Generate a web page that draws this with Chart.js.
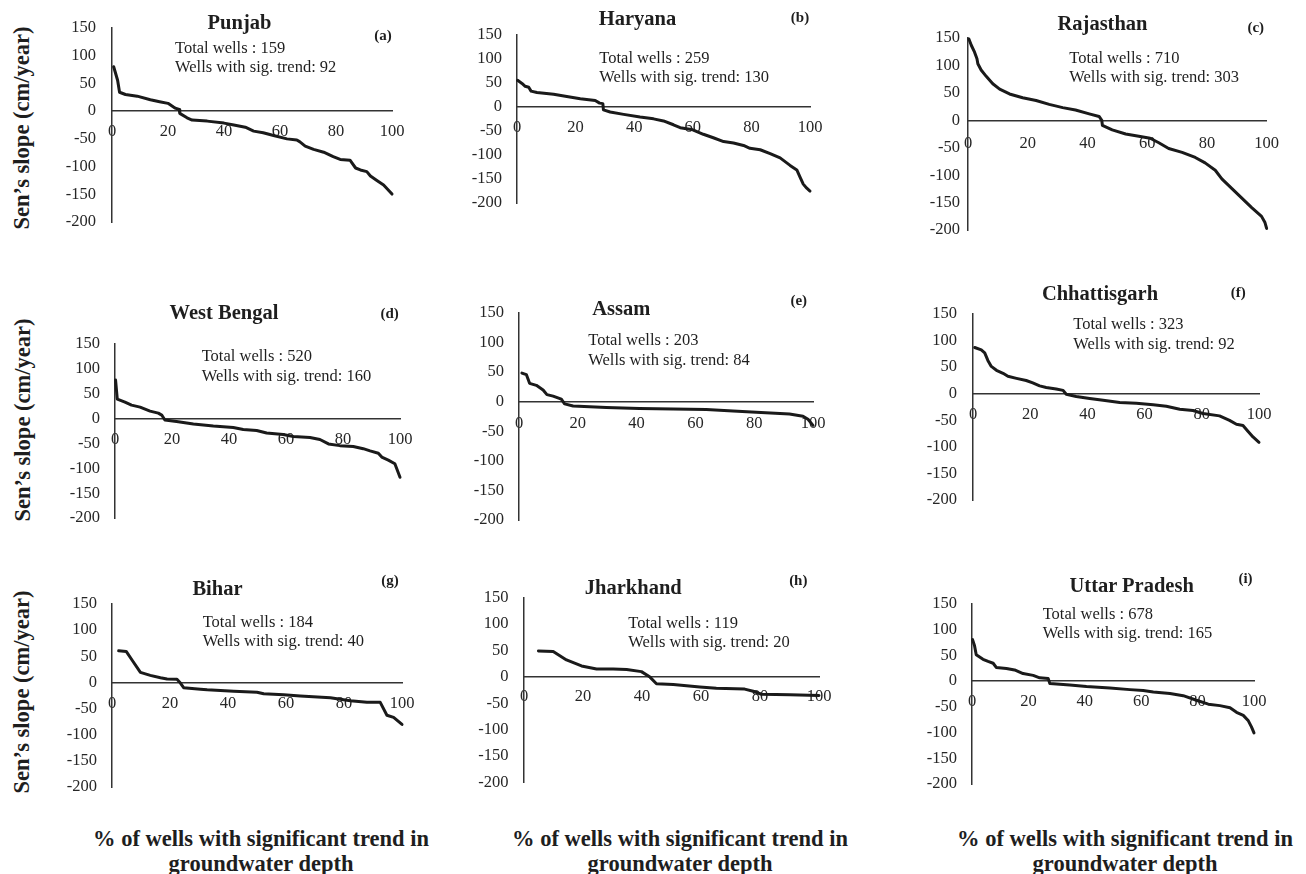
<!DOCTYPE html>
<html>
<head>
<meta charset="utf-8">
<script src="https://cdn.jsdelivr.net/npm/chart.js@4.4.0/dist/chart.umd.min.js"></script>
<style>
  body { margin: 0; background: #fff; }
  #fig { position: relative; width: 1306px; height: 874px; overflow: hidden;
         font-family: "Liberation Serif", "Times New Roman", serif; color: #1e1e1e; }
  #fig canvas { position: absolute; }
  .t { position: absolute; white-space: nowrap; }
  .title { font-weight: bold; font-size: 20.5px; transform: translate(-50%, -50%); }
  .tag { font-weight: bold; font-size: 15px; transform: translate(-50%, -50%); }
  .note { font-size: 16.5px; line-height: 19.5px; }
  .ylab { font-weight: bold; font-size: 22.5px; transform: translate(-50%, -50%) rotate(-90deg); }
  .xlab { font-weight: bold; font-size: 22.5px; line-height: 25px; text-align: center; transform: translateX(-50%); }
</style>
</head>
<body>
<div id="fig"></div>
<script>
// panel labels
const states = ["Punjab", "Haryana", "Rajasthan", "West Bengal", "Assam", "Chhattisgarh", "Bihar", "Jharkhand", "Uttar Pradesh"];
const tags = ["(a)", "(b)", "(c)", "(d)", "(e)", "(f)", "(g)", "(h)", "(i)"];
const totalWells = [159, 259, 710, 520, 203, 323, 184, 119, 678];
const sigWells = [92, 130, 303, 160, 84, 92, 40, 20, 165];

// % of wells (x) and Sen's slope in cm/year (y)
const punjabPct = [0.6, 2, 2.7, 4.8, 9, 13.7, 17, 20, 22.6, 24, 24.2, 26.8, 28.6, 34, 40, 43.5, 47.6, 50.6, 54, 57.7, 62.5, 66, 67, 69, 72, 75.6, 79, 81.5, 85, 87, 88.7, 91, 92.3, 94.6, 97, 100];
const punjabSlope = [80, 55.6, 34, 30, 27, 20.5, 17, 14, 5.4, 3, -4, -12, -16, -18, -21.6, -25, -29, -36, -39, -44, -50, -52, -55, -63, -69, -74, -82, -87, -88.5, -102.5, -106, -109, -117, -125, -133, -149.5];

const haryanaPct = [0.2, 1.7, 2.8, 4, 4.8, 6.8, 12.5, 17, 21.6, 26.7, 28.2, 29.3, 29.5, 31.8, 36.4, 42, 46.6, 50, 53.4, 55.7, 60, 63.6, 67, 70.5, 73.9, 77.3, 79.5, 83, 86.4, 89.8, 93.2, 95.5, 96.6, 97.7, 98.9, 100];
const haryanaSlope = [55.6, 49, 43, 41, 33, 30, 26.5, 22, 17, 13.6, 8, 7, -6, -10.5, -15.4, -21, -24.7, -29, -37, -43, -47.5, -56.8, -64, -72, -75, -80, -86, -89, -97, -106, -121.6, -131, -146, -160.5, -169, -175];

const rajasthanPct = [0.3, 1.1, 2.2, 3, 3.3, 4.4, 6.1, 8.3, 10.6, 13.9, 18.3, 22.8, 27.2, 31.7, 36, 40.6, 43.9, 44.8, 45, 48.3, 52.8, 57.2, 61, 63.9, 67.2, 71.7, 76.1, 79.4, 82.8, 85, 88.3, 91.7, 95, 98.3, 99.4, 100];
const rajasthanSlope = [148, 136.6, 124, 112, 103, 91.6, 80, 66.5, 56.6, 47.9, 40.9, 36, 29, 23, 18.7, 11.7, 7, 0, -9.3, -17.5, -25, -29, -32.7, -40.9, -51.4, -58.4, -67.7, -77.6, -91, -106.8, -124, -141.9, -159, -175, -185.6, -197];

const westBengalPct = [0.2, 0.8, 3.5, 5.8, 8.8, 12.3, 15.2, 16.4, 17.5, 21.6, 27.5, 34.5, 41.5, 45, 49.7, 53.2, 59, 62.6, 68.4, 71.9, 74.9, 78.9, 83.6, 87.1, 89.5, 92.4, 93.6, 95.9, 98.2, 100];
const westBengalSlope = [77.4, 39, 33, 27, 23, 15, 10.9, 7, -3, -6, -10.9, -15, -18, -21.8, -24, -29, -32, -36, -38, -42, -51, -54.4, -56, -60.5, -65, -69.6, -77.4, -83.5, -90.7, -118];

const assamPct = [1, 2.5, 3.6, 5.9, 8.2, 9.5, 11.6, 14.4, 15.5, 18.4, 29.7, 41, 52.4, 63.7, 72.8, 80.7, 92, 96.6, 98.3, 100];
const assamSlope = [48.4, 45.8, 31, 27.6, 19.8, 12, 9.4, 4.2, -3.6, -7.3, -9.9, -11.5, -12.5, -13, -15.6, -17.7, -20.8, -24.5, -29.7, -40];

const chhattisgarhPct = [0.6, 2.9, 4.1, 5.2, 6.4, 8.2, 10.5, 12.2, 15.2, 18.6, 20.9, 23.3, 25.6, 29.1, 31.5, 32.6, 36.1, 40.8, 45.5, 51.3, 57.1, 63, 67.6, 72.3, 76.9, 80.4, 86.2, 89.7, 92.1, 94.4, 96.2, 97.9, 100];
const chhattisgarhSlope = [86.8, 82.3, 76.7, 62.6, 51.3, 44, 38.4, 32.7, 28.8, 24.8, 20.3, 14.7, 11.8, 9, 6.2, -1.1, -5.1, -9, -12.4, -16.4, -18, -20.9, -23.7, -29.3, -31.6, -37.2, -41.7, -50.2, -57.5, -59.8, -71, -81.2, -91.4];

const biharPct = [2.3, 4.9, 6.9, 9.8, 13.2, 16.7, 19, 22.4, 23.6, 24.7, 30.5, 32.8, 42, 50, 52.3, 59.2, 64.9, 75.3, 78.7, 82.2, 87.9, 92.5, 94.8, 97.1, 100];
const biharSlope = [60.3, 59.2, 42.8, 19.3, 13.5, 8.8, 6.4, 5.9, -1.2, -10, -12.9, -14.1, -17, -18.7, -21.7, -23.4, -25.8, -29.3, -32.2, -35.1, -38.1, -38.1, -62.7, -66.8, -80.3];

const jharkhandPct = [4.9, 9.9, 14.4, 19.5, 24.6, 30.2, 34.8, 39.8, 42.7, 44.9, 50.6, 59.6, 65.2, 74.8, 77.7, 80.5, 90.1, 100];
const jharkhandSlope = [48.9, 47.7, 31.8, 20.5, 14.8, 14.8, 13.6, 9.7, -0.6, -13.1, -14.8, -19.3, -21.6, -23.3, -27.3, -33, -34.1, -35.2];

const uttarPct = [0.2, 0.9, 1.5, 3.9, 5.7, 7.5, 8.6, 12.2, 15.1, 18.1, 21.7, 24, 27, 27.6, 34.7, 40.6, 48.9, 56, 60.7, 64.3, 70.2, 74.9, 79.6, 83.8, 87.9, 91.5, 93.8, 96.2, 98, 99.1, 100];
const uttarSlope = [80.6, 68.8, 51.2, 42.4, 38.2, 34.7, 26.5, 24.7, 21.8, 14.7, 11.2, 6.5, 5.3, -4.7, -7.6, -10.6, -13.5, -16.5, -18.2, -21.2, -24.1, -28.2, -37.1, -44.7, -47.6, -51.8, -60.6, -66.5, -77.1, -88.8, -100.6];

const pctSeries = [punjabPct, haryanaPct, rajasthanPct, westBengalPct, assamPct, chhattisgarhPct, biharPct, jharkhandPct, uttarPct];
const slopeSeries = [punjabSlope, haryanaSlope, rajasthanSlope, westBengalSlope, assamSlope, chhattisgarhSlope, biharSlope, jharkhandSlope, uttarSlope];

const yMin = -200, yMax = 150, yStep = 50;
const xMin = 0, xMax = 100, xStep = 20;

// page layout of each panel (pixels): axis x, right end, top, bottom, label gaps, text anchors
const panels = [
  { ax: 111.7, right: 391.7, top: 17, bot: 233, lab: 16, xpad: 11, title: [239.5, 21.7], tag: [383, 35], note: [175, 47.3] },
  { ax: 516.7, right: 810, top: 25, bot: 213, lab: 15, xpad: 11, title: [637.5, 18.3], tag: [800, 17.3], note: [599.3, 57.3] },
  { ax: 968.3, right: 1268.3, top: 35, bot: 233, lab: 8, xpad: 14, title: [1102.5, 23.3], tag: [1255.8, 27.3], note: [1069.3, 57.3] },
  { ax: 115, right: 400, top: 334, bot: 528, lab: 15, xpad: 11, title: [224, 311.7], tag: [389.7, 313.3], note: [201.7, 356] },
  { ax: 519.3, right: 813.3, top: 303.3, bot: 530, lab: 15, xpad: 12, title: [621.3, 308.3], tag: [798.8, 300], note: [588.3, 340] },
  { ax: 973.3, right: 1259.3, top: 303.3, bot: 511.7, lab: 16, xpad: 11, title: [1100, 293.3], tag: [1238.3, 291.7], note: [1073.3, 324] },
  { ax: 111.7, right: 401.7, top: 594, bot: 796.7, lab: 15, xpad: 11, title: [217.5, 588.3], tag: [390, 580], note: [202.7, 621.7] },
  { ax: 524, right: 819.3, top: 586.7, bot: 792.7, lab: 15.5, xpad: 10, title: [633.3, 587.3], tag: [798.3, 580], note: [628.3, 622.7] },
  { ax: 972.3, right: 1254, top: 594, bot: 794, lab: 15, xpad: 11, title: [1131.7, 585], tag: [1245.5, 578.3], note: [1042.7, 613.3] }
];
const yLabelAt = [[22, 127.5], [23, 420], [22, 692]];
const xLabelAt = [261, 680, 1125];

const fig = document.getElementById("fig");
const serif = "'Liberation Serif', 'Times New Roman', serif";

function addText(cls, html, x, y) {
  const d = document.createElement("div");
  d.className = "t " + cls;
  d.innerHTML = html;
  d.style.left = x + "px";
  d.style.top = y + "px";
  fig.appendChild(d);
  return d;
}

panels.forEach((p, i) => {
  const padL = 10, axW = 50, padT = 15, padR = 25, padB = 15;
  const left = Math.round(p.ax) - padL - axW;
  const top = Math.round(p.top) - padT;
  const w = padL + axW + Math.round(p.right - p.ax) + padR;
  const h = padT + Math.round(p.bot - p.top) + padB;

  const cv = document.createElement("canvas");
  cv.width = w;
  cv.height = h;
  cv.style.left = left + "px";
  cv.style.top = top + "px";
  cv.style.width = w + "px";
  cv.style.height = h + "px";
  fig.appendChild(cv);

  const tickFont = { family: serif, size: 16.5 };

  new Chart(cv, {
    type: "line",
    data: {
      datasets: [{
        data: pctSeries[i].map((x, k) => ({ x: x, y: slopeSeries[i][k] })),
        borderColor: "#1a1a1a",
        borderWidth: 3,
        pointRadius: 0,
        tension: 0,
        clip: false,
        borderJoinStyle: "round",
        borderCapStyle: "round"
      }]
    },
    options: {
      responsive: false,
      animation: false,
      devicePixelRatio: 1,
      layout: { padding: { left: padL, top: padT, right: padR, bottom: padB } },
      plugins: { legend: { display: false }, tooltip: { enabled: false } },
      scales: {
        x: {
          type: "linear",
          min: xMin, max: xMax,
          position: { y: 0 },
          grid: { display: false, drawTicks: false },
          border: { display: true, color: "#333", width: 1.5 },
          ticks: { stepSize: xStep, autoSkip: false, maxRotation: 0, padding: p.xpad, color: "#262626", font: tickFont }
        },
        y: {
          min: yMin, max: yMax,
          grid: { display: false, drawTicks: false },
          border: { display: true, color: "#333", width: 1.5 },
          ticks: { stepSize: yStep, padding: p.lab, color: "#262626", font: tickFont },
          afterFit: s => { s.width = axW; }
        }
      }
    }
  });

  addText("title", states[i], p.title[0], p.title[1]);
  addText("tag", tags[i], p.tag[0], p.tag[1]);
  addText("note", "Total wells : " + totalWells[i] + "<br>Wells with sig. trend: " + sigWells[i], p.note[0], p.note[1] - 9.75);
});

yLabelAt.forEach(pt => addText("ylab", "Sen’s slope (cm/year)", pt[0], pt[1]));
xLabelAt.forEach(x => addText("xlab", "% of wells with significant trend in<br>groundwater depth", x, 826));
</script>
</body>
</html>
